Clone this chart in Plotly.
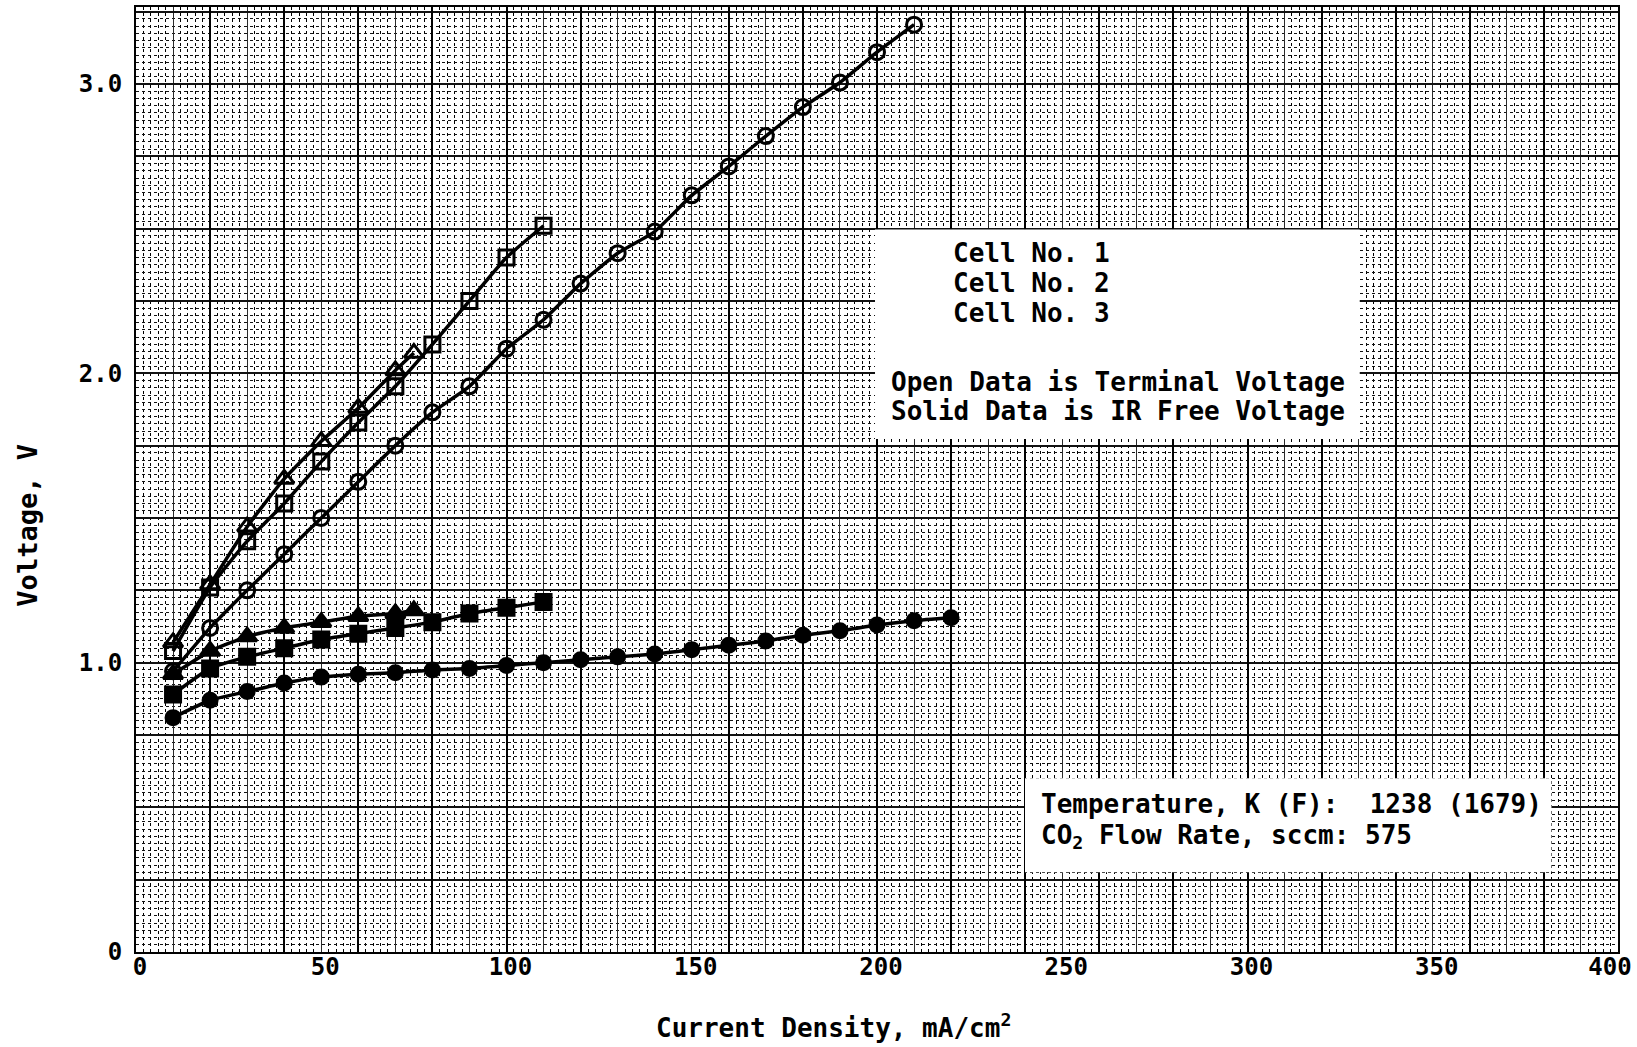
import plotly.graph_objects as go

# ---------------- data ----------------
cell1_open_x = [10, 20, 30, 40, 50, 60, 70, 75]
cell1_open_y = [1.07, 1.27, 1.47, 1.635, 1.765, 1.88, 2.01, 2.07]

cell2_open_x = [10, 20, 30, 40, 50, 60, 70, 80, 90, 100, 110]
cell2_open_y = [1.04, 1.26, 1.42, 1.55, 1.695, 1.83, 1.955, 2.10, 2.25, 2.40, 2.51]

cell3_open_x = [10, 20, 30, 40, 50, 60, 70, 80, 90, 100, 110, 120, 130, 140, 150, 160, 170, 180, 190, 200, 210]
cell3_open_y = [0.97, 1.12, 1.25, 1.375, 1.50, 1.625, 1.75, 1.865, 1.955, 2.085, 2.185, 2.31, 2.415, 2.49,
                2.615, 2.715, 2.82, 2.92, 3.005, 3.11, 3.205]

cell1_solid_x = [10, 20, 30, 40, 50, 60, 70, 75]
cell1_solid_y = [0.96, 1.04, 1.09, 1.12, 1.14, 1.16, 1.17, 1.18]

cell2_solid_x = [10, 20, 30, 40, 50, 60, 70, 80, 90, 100, 110]
cell2_solid_y = [0.89, 0.98, 1.02, 1.05, 1.08, 1.10, 1.12, 1.14, 1.17, 1.19, 1.21]

cell3_solid_x = [10, 20, 30, 40, 50, 60, 70, 80, 90, 100, 110, 120, 130, 140, 150, 160, 170, 180, 190, 200, 210, 220]
cell3_solid_y = [0.81, 0.87, 0.90, 0.93, 0.95, 0.96, 0.965, 0.975, 0.98, 0.99, 1.00, 1.01, 1.02, 1.03,
                 1.045, 1.06, 1.075, 1.095, 1.11, 1.13, 1.145, 1.155]

x_ticks = [0, 50, 100, 150, 200, 250, 300, 350]
x_last_tick = [400]
y_ticks = [0, 1, 2, 3]
y_tick_text = ["0", "1.0", "2.0", "3.0"]

legend_lines = ["Cell No. 1", "Cell No. 2", "Cell No. 3"]
note_lines = ["Open Data is Terminal Voltage", "Solid Data is IR Free Voltage"]
cond_lines = ["Temperature, K (F):  1238 (1679)", "CO<sub>2</sub> Flow Rate, sccm: 575"]

# ---------------- figure ----------------
W, H = 1637, 1047
L, R, T, B = 136, 9, 5, 95
PW, PH = W - L - R, H - T - B
XR = [0, 400]
YR = [0, 3.266]

FONT = "DejaVu Sans Mono"


def px(xp):
    return (xp - L) / PW


def py(yp):
    return (H - B - yp) / PH


fig = go.Figure()

# invisible traces to create grid / label overlay subplots
fig.add_trace(go.Scatter(x=[], y=[], xaxis="x2", yaxis="y2", showlegend=False, hoverinfo="skip"))
fig.add_trace(go.Scatter(x=[], y=[], xaxis="x3", yaxis="y2", showlegend=False, hoverinfo="skip"))
fig.add_trace(go.Scatter(x=[], y=[], xaxis="x4", yaxis="y2", showlegend=False, hoverinfo="skip"))

line_style = dict(color="black", width=3.5, shape="spline", smoothing=0.5)

series = [
    (cell1_open_x, cell1_open_y, "triangle-up-open", 17, "Cell No. 1 terminal"),
    (cell2_open_x, cell2_open_y, "square-open", 15, "Cell No. 2 terminal"),
    (cell3_open_x, cell3_open_y, "circle-open", 15, "Cell No. 3 terminal"),
    (cell1_solid_x, cell1_solid_y, "triangle-up", 17, "Cell No. 1 IR free"),
    (cell2_solid_x, cell2_solid_y, "square", 15, "Cell No. 2 IR free"),
    (cell3_solid_x, cell3_solid_y, "circle", 14, "Cell No. 3 IR free"),
]
for xs, ys, sym, size, name in series:
    fig.add_trace(go.Scatter(
        x=xs, y=ys, mode="lines+markers", name=name, showlegend=False,
        line=line_style,
        marker=dict(symbol=sym, size=size, color="black", line=dict(color="black", width=3)),
    ))

# white boxes
fig.add_shape(type="rect", xref="paper", yref="paper",
              x0=px(880), x1=px(1368), y0=py(438), y1=py(228),
              fillcolor="white", line=dict(width=0), layer="above")
fig.add_shape(type="rect", xref="paper", yref="paper",
              x0=px(1031), x1=px(1561), y0=py(872), y1=py(778),
              fillcolor="white", line=dict(width=0), layer="above")

txt_font = dict(family=FONT, size=26, color="black", weight="bold")
for txt, yy in zip(legend_lines, [252, 282, 312]):
    fig.add_annotation(text=txt, xref="paper", yref="paper", x=px(956), y=py(yy),
                       xanchor="left", yanchor="middle", showarrow=False, font=txt_font)
for txt, yy in zip(note_lines, [381, 410]):
    fig.add_annotation(text=txt, xref="paper", yref="paper", x=px(894), y=py(yy),
                       xanchor="left", yanchor="middle", showarrow=False, font=txt_font)
for txt, yy in zip(cond_lines, [804, 836]):
    fig.add_annotation(text=txt, xref="paper", yref="paper", x=px(1045), y=py(yy),
                       xanchor="left", yanchor="middle", showarrow=False, font=txt_font)

# axis titles
fig.add_annotation(text="Current Density, mA/cm<sup>2</sup>", xref="paper", yref="paper",
                   x=px(838), y=py(1026), xanchor="center", yanchor="middle",
                   showarrow=False, font=txt_font)
fig.add_annotation(text="Voltage, V", xref="paper", yref="paper",
                   x=px(27), y=py(524), xanchor="center", yanchor="middle", textangle=-90,
                   showarrow=False, font=dict(family=FONT, size=27, color="black", weight="bold"))

tick_font = dict(family=FONT, size=24, color="black", weight="bold")

fig.update_layout(
    width=W, height=H, autosize=False,
    margin=dict(l=L, r=R, t=T, b=B, pad=0),
    paper_bgcolor="white", plot_bgcolor="white",
    xaxis=dict(range=XR, tickmode="array", tickvals=x_ticks, showgrid=False, zeroline=False,
               ticks="", tickfont=tick_font, showline=True, mirror=True, linecolor="black",
               linewidth=2, ticklabelstandoff=-8, ticklabelshift=4),
    xaxis4=dict(range=XR, overlaying="x", anchor="y2", side="bottom", tickmode="array",
                tickvals=x_last_tick, showgrid=False, zeroline=False, ticks="", tickfont=tick_font,
                ticklabelstandoff=-2, ticklabelshift=-8, ticklabeloverflow="allow"),
    yaxis=dict(range=YR, tickmode="array", tickvals=y_ticks, ticktext=y_tick_text, showgrid=False,
               zeroline=False, ticks="", tickfont=tick_font, showline=True, mirror=True,
               linecolor="black", linewidth=2, ticklabelstandoff=7),
    xaxis2=dict(range=XR, overlaying="x", anchor="y2", showticklabels=False, ticks="",
                dtick=10, tick0=0, showgrid=True, gridcolor="#2a2a2a", gridwidth=1, zeroline=False,
                minor=dict(dtick=2, tick0=0, showgrid=True, gridcolor="#000000", griddash="dot",
                           gridwidth=1)),
    xaxis3=dict(range=XR, overlaying="x", anchor="y2", showticklabels=False, ticks="",
                dtick=20, tick0=0, showgrid=True, gridcolor="#000000", gridwidth=2, zeroline=False),
    yaxis2=dict(range=YR, overlaying="y", anchor="x2", showticklabels=False, ticks="",
                dtick=0.25, tick0=0, showgrid=True, gridcolor="#111111", gridwidth=2, zeroline=False,
                minor=dict(dtick=0.025, tick0=0, showgrid=True, gridcolor="#111111", griddash="dot",
                           gridwidth=1)),
)

fig.write_html("out.html")
